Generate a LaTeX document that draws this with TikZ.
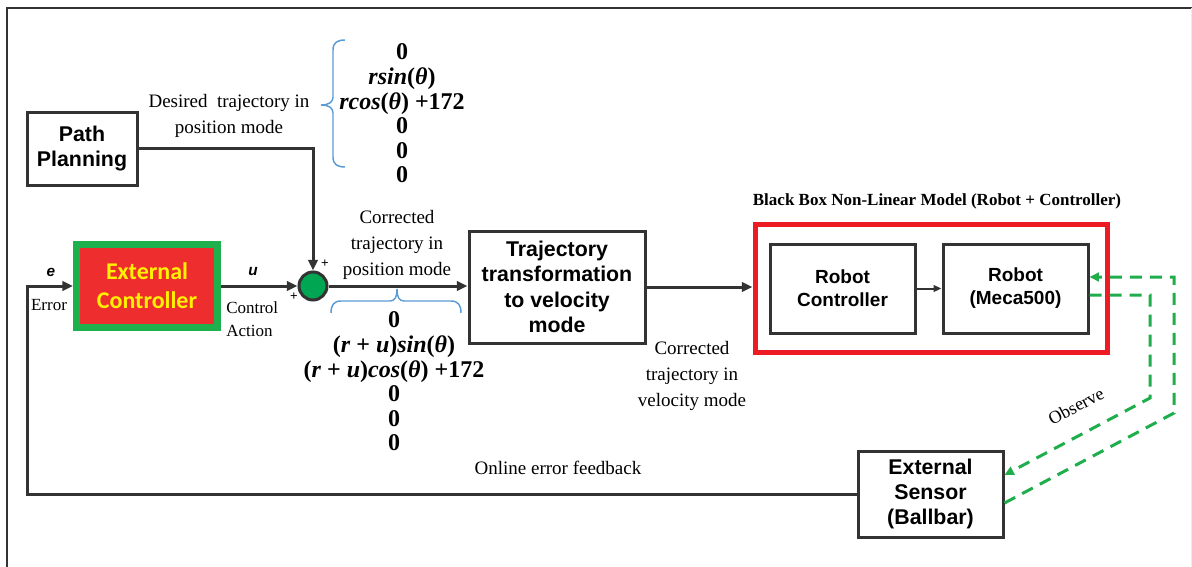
\documentclass[tikz,border=0pt]{standalone}
\usepackage{fontspec}
\setmainfont{Liberation Serif}
\setsansfont{Liberation Sans}
\newfontfamily\calfont{Carlito}
\usepackage{tikz}
\usetikzlibrary{arrows.meta}
\definecolor{boxgray}{HTML}{333333}
\definecolor{sumgreen}{HTML}{00A651}
\definecolor{ecgreen}{HTML}{1DB04C}
\definecolor{ecred}{HTML}{EE2D2E}
\definecolor{bbred}{HTML}{ED1C24}
\definecolor{dashgreen}{HTML}{1FAE4B}
\definecolor{bracblue}{HTML}{5B9BD5}
\definecolor{ecyellow}{HTML}{FFF200}
\tikzset{
  blk/.style={draw=boxgray,line width=2.25pt,inner sep=0pt,align=center,font=\sffamily\bfseries\fontsize{16}{19}\selectfont},
  rblk/.style={blk,font=\sffamily\bfseries\fontsize{14.25}{17.25}\selectfont,minimum width=108.75pt,minimum height=66.75pt},
  lbl/.style={align=center,inner sep=0pt,font=\fontsize{14.25}{19.5}\selectfont},
  slbl/.style={lbl,font=\fontsize{12.75}{17.25}\selectfont},
  vec/.style={align=center,inner sep=0pt,font=\bfseries\fontsize{18}{18.45}\selectfont},
  sig/.style={inner sep=0pt,font=\sffamily\bfseries\itshape\fontsize{11.5}{14}\selectfont},
  pls/.style={inner sep=0pt,font=\bfseries\fontsize{10}{12}\selectfont},
  arr/.style={draw=boxgray,line width=2.25pt,-{Triangle[length=8pt,width=7pt]}},
  obs/.style={draw=dashgreen,line width=2.25pt,dash pattern=on 9pt off 6pt,-{Triangle[length=7pt,width=6.5pt]}},
  brc/.style={draw=bracblue,line width=1.1pt}
}
\newcommand{\vi}[1]{\textit{#1}}
\begin{document}
\begin{tikzpicture}[x=0.75pt,y=-0.75pt]
\useasboundingbox (0,0) rectangle (1192,567);
\draw[boxgray,line width=1.5pt] (7,567) -- (7,8) -- (1192,8);
\draw[black!7,line width=0.75pt] (1191,8) -- (1191,567);

\node[blk,minimum width=82.5pt,minimum height=54.75pt] (pp) at (82,148.5) {Path\\Planning};
\node[draw=ecgreen,fill=ecred,line width=5.25pt,minimum width=105.75pt,minimum height=62.25pt,inner sep=0pt,align=center,text=ecyellow,font=\calfont\bfseries\fontsize{18}{21.75}\selectfont] (ec) at (147,286) {External\\Controller};
\node[circle,draw=boxgray,fill=sumgreen,line width=2.25pt,minimum size=21pt,inner sep=0pt] (sum) at (313,286) {};
\node[blk,minimum width=132pt,minimum height=84pt] (traj) at (557,287) {Trajectory\\transformation\\to velocity\\mode};
\node[draw=bbred,line width=3.75pt,minimum width=264pt,minimum height=96pt] (bb) at (931,288) {};
\node[rblk] (rc) at (842.5,288.5) {Robot\\Controller};
\node[rblk] (rob) at (1015.5,288.5) {Robot\\(Meca500)};
\node[blk,minimum width=108.75pt,minimum height=64.5pt] (sens) at (930.5,494) {External\\Sensor\\(Ballbar)};

\node[lbl] (des) at (229,115.5) {Desired\ \ trajectory in\\position mode};
\node[lbl] (cor) at (397,245) {Corrected\\trajectory in\\position mode};
\node[lbl] (corv) at (692,376) {Corrected\\trajectory in\\velocity mode};
\node[lbl] (onl) at (558,468) {Online error feedback};
\node[lbl,font=\bfseries\fontsize{12.75}{15}\selectfont] (bbt) at (937,201) {Black Box Non-Linear Model (Robot + Controller)};
\node[slbl,align=left,anchor=west] (ctl) at (226,319) {Control\\Action};
\node[slbl] (err) at (49,305) {Error};
\node[sig] (e) at (51,272) {e};
\node[sig] (u) at (253,272) {u};
\node[pls] (p1) at (325,264) {+};
\node[pls] (p2) at (294,297) {+};
\node[lbl,font=\fontsize{13.5}{16}\selectfont,rotate=28] (obsv) at (1076,406) {Observe};

\node[vec] (dv) at (402,113.5) {0\\\vi{rsin}(\vi{θ})\\\vi{rcos}(\vi{θ}) +172\\0\\0\\0};
\node[vec] (cv) at (394,381.5) {0\\(\vi{r} + \vi{u})\vi{sin}(\vi{θ})\\(\vi{r} + \vi{u})\vi{cos}(\vi{θ}) +172\\0\\0\\0};
\draw[brc] (345,40) .. controls (337,40) and (333,43) .. (333,50) -- (333,97)
  .. controls (333,102) and (329,105) .. (321,105) .. controls (329,105) and (333,108) .. (333,113)
  -- (333,157) .. controls (333,164) and (337,167) .. (345,167);
\draw[brc] (331,313) .. controls (331,305) and (334,301) .. (341,301) -- (390,301)
  .. controls (395,301) and (397,297) .. (397,289) .. controls (397,297) and (399,301) .. (404,301)
  -- (451,301) .. controls (458,301) and (461,305) .. (461,313);

\draw[arr] (pp.east) -| (sum.north);
\draw[arr] (ec.east) -- (sum.west);
\draw[arr] (sum.east) -- (sum.east -| traj.west);
\draw[arr] (traj.east) -- (traj.east -| bb.west);
\draw[draw=boxgray,line width=1.5pt,-{Triangle[length=6pt,width=5pt]}] (rc.east) -- (rob.west);
\coordinate (fb) at (27,400);
\draw[arr] (sens.west) -| (fb) |- (ec.west);

\coordinate (o1) at (1174,413);
\coordinate (o2) at (1174,277);
\coordinate (o3) at (1150,295);
\coordinate (o4) at (1150,398);
\draw[obs] ([yshift=-6.75pt]sens.east) -- (o1) -- (o2) -- (o2 -| rob.east);
\draw[obs] (rob.east |- o3) -- (o3) -- (o4) -- ([yshift=14.25pt]sens.east);
\end{tikzpicture}
\end{document}
